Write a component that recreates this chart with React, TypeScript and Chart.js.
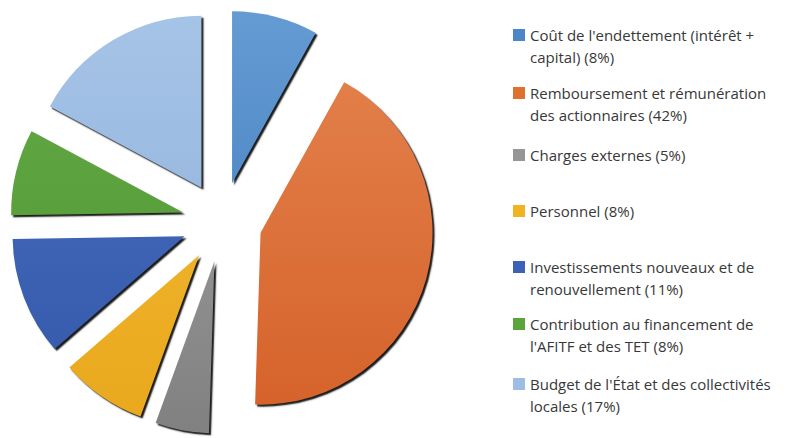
import React, { useEffect, useRef } from "react";
import { Chart, registerables } from "chart.js";

Chart.register(...registerables);

// ---- data ----
const categories = [
  "Coût de l'endettement (intérêt +\ncapital)",
  "Remboursement et rémunération\ndes actionnaires",
  "Charges externes",
  "Personnel",
  "Investissements nouveaux et de\nrenouvellement",
  "Contribution au financement de\nl'AFITF et des TET",
  "Budget de l'État et des collectivités\nlocales",
];
const shares = [8, 42, 5, 8, 11, 8, 17];

// ---- styles ----
const swatchColors = ["#4a86c8", "#e0702e", "#969696", "#f2b323", "#3b62b6", "#5aa43c", "#9dbde6"];
const topColors = ["#6a9fd5", "#e5844f", "#a2a2a2", "#f4bb36", "#4a70c2", "#66ad48", "#a9c6e8"];
const bottomColors = ["#3a78bd", "#d45f27", "#7d7d7d", "#e8a61a", "#3156a6", "#4d9330", "#8aaed9"];
const legendTops = [35, 93, 155, 211, 267, 324, 384];

const EXPLODE = 40;
const RADIUS = 172;

const explodePlugin = {
  id: "explodeShadow",
  beforeDatasetDraw(chart: any, args: any) {
    const ctx = chart.ctx;
    const meta = args.meta;
    ctx.save();
    ctx.shadowColor = "rgba(0,0,0,0.9)";
    ctx.shadowOffsetX = 2;
    ctx.shadowOffsetY = 2;
    ctx.shadowBlur = 1.5;
    meta.data.forEach((arc: any) => {
      const mid = (arc.startAngle + arc.endAngle) / 2;
      ctx.save();
      ctx.translate(Math.cos(mid) * EXPLODE, Math.sin(mid) * EXPLODE);
      arc.draw(ctx);
      ctx.restore();
    });
    ctx.restore();
    return false;
  },
};

export default function App() {
  const ref = useRef<HTMLCanvasElement | null>(null);

  useEffect(() => {
    if (!ref.current) return;
    const chart = new Chart(ref.current, {
      type: "pie",
      data: {
        labels: categories,
        datasets: [
          {
            data: shares,
            borderWidth: 0,
            offset: 0,
            backgroundColor: (c: any) => {
              const area = c.chart.chartArea;
              const i = c.dataIndex;
              if (!area || i === undefined) return swatchColors[i ?? 0];
              const g = c.chart.ctx.createLinearGradient(0, area.top, 0, area.bottom);
              g.addColorStop(0, topColors[i]);
              g.addColorStop(1, bottomColors[i]);
              return g;
            },
          },
        ],
      },
      options: {
        responsive: true,
        maintainAspectRatio: false,
        animation: false,
        radius: RADIUS,
        layout: { padding: { top: 6, left: 0, right: 0, bottom: 0 } },
        plugins: {
          legend: { display: false },
          tooltip: { enabled: false },
        },
        events: [],
      } as any,
      plugins: [explodePlugin],
    });
    return () => chart.destroy();
  }, []);

  return (
    <div
      style={{
        position: "absolute",
        left: 0,
        top: 0,
        width: 801,
        height: 438,
        background: "#ffffff",
        overflow: "hidden",
        fontFamily: "'Open Sans', sans-serif",
      }}
    >
      <div style={{ position: "absolute", left: 0, top: 0, width: 444, height: 438 }}>
        <canvas ref={ref} />
      </div>
      {categories.map((c, i) => (
        <div key={i}>
          <div
            style={{
              position: "absolute",
              left: 513,
              top: legendTops[i] - 6,
              width: 12,
              height: 12,
              background: swatchColors[i],
            }}
          />
          <div
            style={{
              position: "absolute",
              left: 530,
              top: legendTops[i] - 11,
              width: 271,
              fontSize: 15,
              lineHeight: "22px",
              color: "#383838",
              whiteSpace: "pre",
            }}
          >
            {`${c} (${shares[i]}%)`}
          </div>
        </div>
      ))}
    </div>
  );
}
